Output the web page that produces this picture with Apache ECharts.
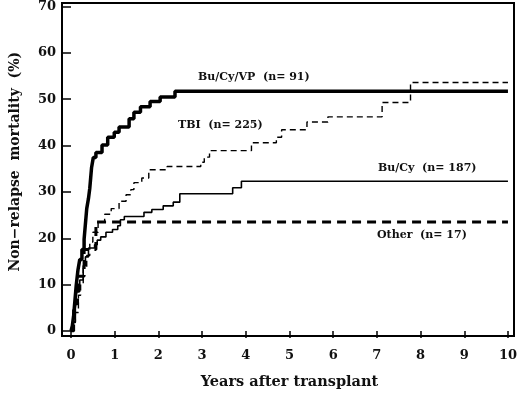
<!DOCTYPE html>
<html>
<head>
<meta charset="utf-8">
<script src="https://cdn.jsdelivr.net/npm/echarts@6/dist/echarts.min.js"></script>
<style>
  html, body { margin: 0; padding: 0; background: #fff; }
  #chart { width: 520px; height: 395px; }
</style>
</head>
<body>
<div id="chart"></div>
<script>
// cumulative incidence curves, [years, %]
const buCyVp = [
  [0, 0], [0.03, 1.1], [0.06, 3.3], [0.09, 6.6], [0.12, 9.9], [0.16, 13.2], [0.2, 15.4],
  [0.25, 17.6], [0.3, 19.8], [0.33, 23.1], [0.36, 26.4], [0.4, 28.6], [0.43, 30.8],
  [0.45, 33.0], [0.47, 35.2], [0.51, 37.4], [0.57, 38.5], [0.71, 40.1], [0.84, 41.8],
  [0.99, 42.9], [1.1, 44.0], [1.33, 45.8], [1.44, 47.2], [1.59, 48.4], [1.81, 49.5],
  [2.04, 50.5], [2.38, 51.7], [10, 51.7]
];
const tbi = [
  [0, 0], [0.05, 1.8], [0.1, 4.0], [0.17, 7.7], [0.22, 10.2], [0.28, 13.5], [0.36, 16.3],
  [0.43, 19.2], [0.5, 21.3], [0.62, 23.5], [0.77, 25.2], [0.92, 26.4], [1.1, 28.0],
  [1.26, 29.4], [1.37, 30.5], [1.44, 32.0], [1.62, 33.0], [1.78, 34.8], [2.2, 35.5],
  [2.97, 36.4], [3.05, 37.5], [3.17, 38.9], [4.13, 40.6], [4.7, 41.8], [4.82, 43.4],
  [5.4, 45.1], [5.88, 46.2], [7.12, 49.3], [7.77, 53.6], [10, 53.6]
];
const buCy = [
  [0, 0], [0.05, 2.0], [0.1, 5.0], [0.13, 8.5], [0.2, 11.0], [0.28, 14.1], [0.33, 16.0],
  [0.4, 17.9], [0.54, 18.6], [0.6, 19.6], [0.68, 20.3], [0.8, 21.3], [0.95, 21.9],
  [1.07, 22.7], [1.13, 24.0], [1.22, 24.7], [1.67, 25.6], [1.85, 26.2], [2.11, 27.0],
  [2.34, 27.8], [2.49, 29.6], [3.7, 30.9], [3.9, 32.3], [10, 32.3]
];
const other = [
  [0, 0], [0.06, 5.9], [0.15, 11.8], [0.3, 17.6], [0.57, 23.5], [10, 23.5]
];
const curveLabels = ['Bu/Cy/VP  (n= 91)', 'TBI  (n= 225)', 'Bu/Cy  (n= 187)', 'Other  (n= 17)'];

const font = 'DejaVu Serif';
const chart = echarts.init(document.getElementById('chart'));

function curve(data, width, type) {
  return {
    type: 'line',
    xAxisIndex: 1,
    yAxisIndex: 1,
    step: 'end',
    showSymbol: false,
    silent: true,
    data: data,
    lineStyle: { color: '#000', width: width, type: type }
  };
}

function note(text, left, top) {
  return {
    type: 'text',
    left: left,
    top: top,
    style: { text: text, fill: '#111', font: 'bold 11px "' + font + '"' }
  };
}

chart.setOption({
  animation: false,
  grid: [
    // outer box
    { left: 62, right: 6, top: 3, bottom: 59, show: true, borderColor: '#000', borderWidth: 2 },
    // data area
    { left: 66, right: 8, top: 5, bottom: 62 }
  ],
  xAxis: [
    { gridIndex: 0, type: 'value', show: false, min: 0, max: 1 },
    {
      gridIndex: 1,
      type: 'value',
      min: 0,
      max: 10,
      interval: 1,
      offset: 3,
      name: 'Years after transplant',
      nameLocation: 'middle',
      nameGap: 41,
      nameTextStyle: { fontFamily: font, fontWeight: 'bold', fontSize: 14.5, color: '#111' },
      axisLine: { show: false },
      axisTick: { show: true, length: 7, lineStyle: { color: '#000', width: 1.5 } },
      axisLabel: { margin: 15, fontFamily: font, fontWeight: 'bold', fontSize: 13, color: '#111' },
      splitLine: { show: false }
    }
  ],
  yAxis: [
    { gridIndex: 0, type: 'value', show: false, min: 0, max: 1 },
    {
      gridIndex: 1,
      type: 'value',
      min: 0,
      max: 70,
      interval: 10,
      offset: 3,
      name: 'Non\u2212relapse  mortality  (%)',
      nameLocation: 'middle',
      nameGap: 46,
      nameTextStyle: { fontFamily: font, fontWeight: 'bold', fontSize: 14, color: '#111', padding: [0, 0, 0, 14] },
      axisLine: { show: false },
      axisTick: { show: true, length: 8, lineStyle: { color: '#000', width: 1.5 } },
      axisLabel: { margin: 12, fontFamily: font, fontWeight: 'bold', fontSize: 13, color: '#111' },
      splitLine: { show: false }
    }
  ],
  series: [
    curve(buCyVp, 3.5, 'solid'),
    curve(tbi, 1.4, [6, 4]),
    curve(buCy, 1.6, 'solid'),
    curve(other, 3, [9, 6])
  ],
  graphic: [
    note(curveLabels[0], 198, 72),
    note(curveLabels[1], 178, 120),
    note(curveLabels[2], 378, 163),
    note(curveLabels[3], 377, 230)
  ]
});
</script>
</body>
</html>
